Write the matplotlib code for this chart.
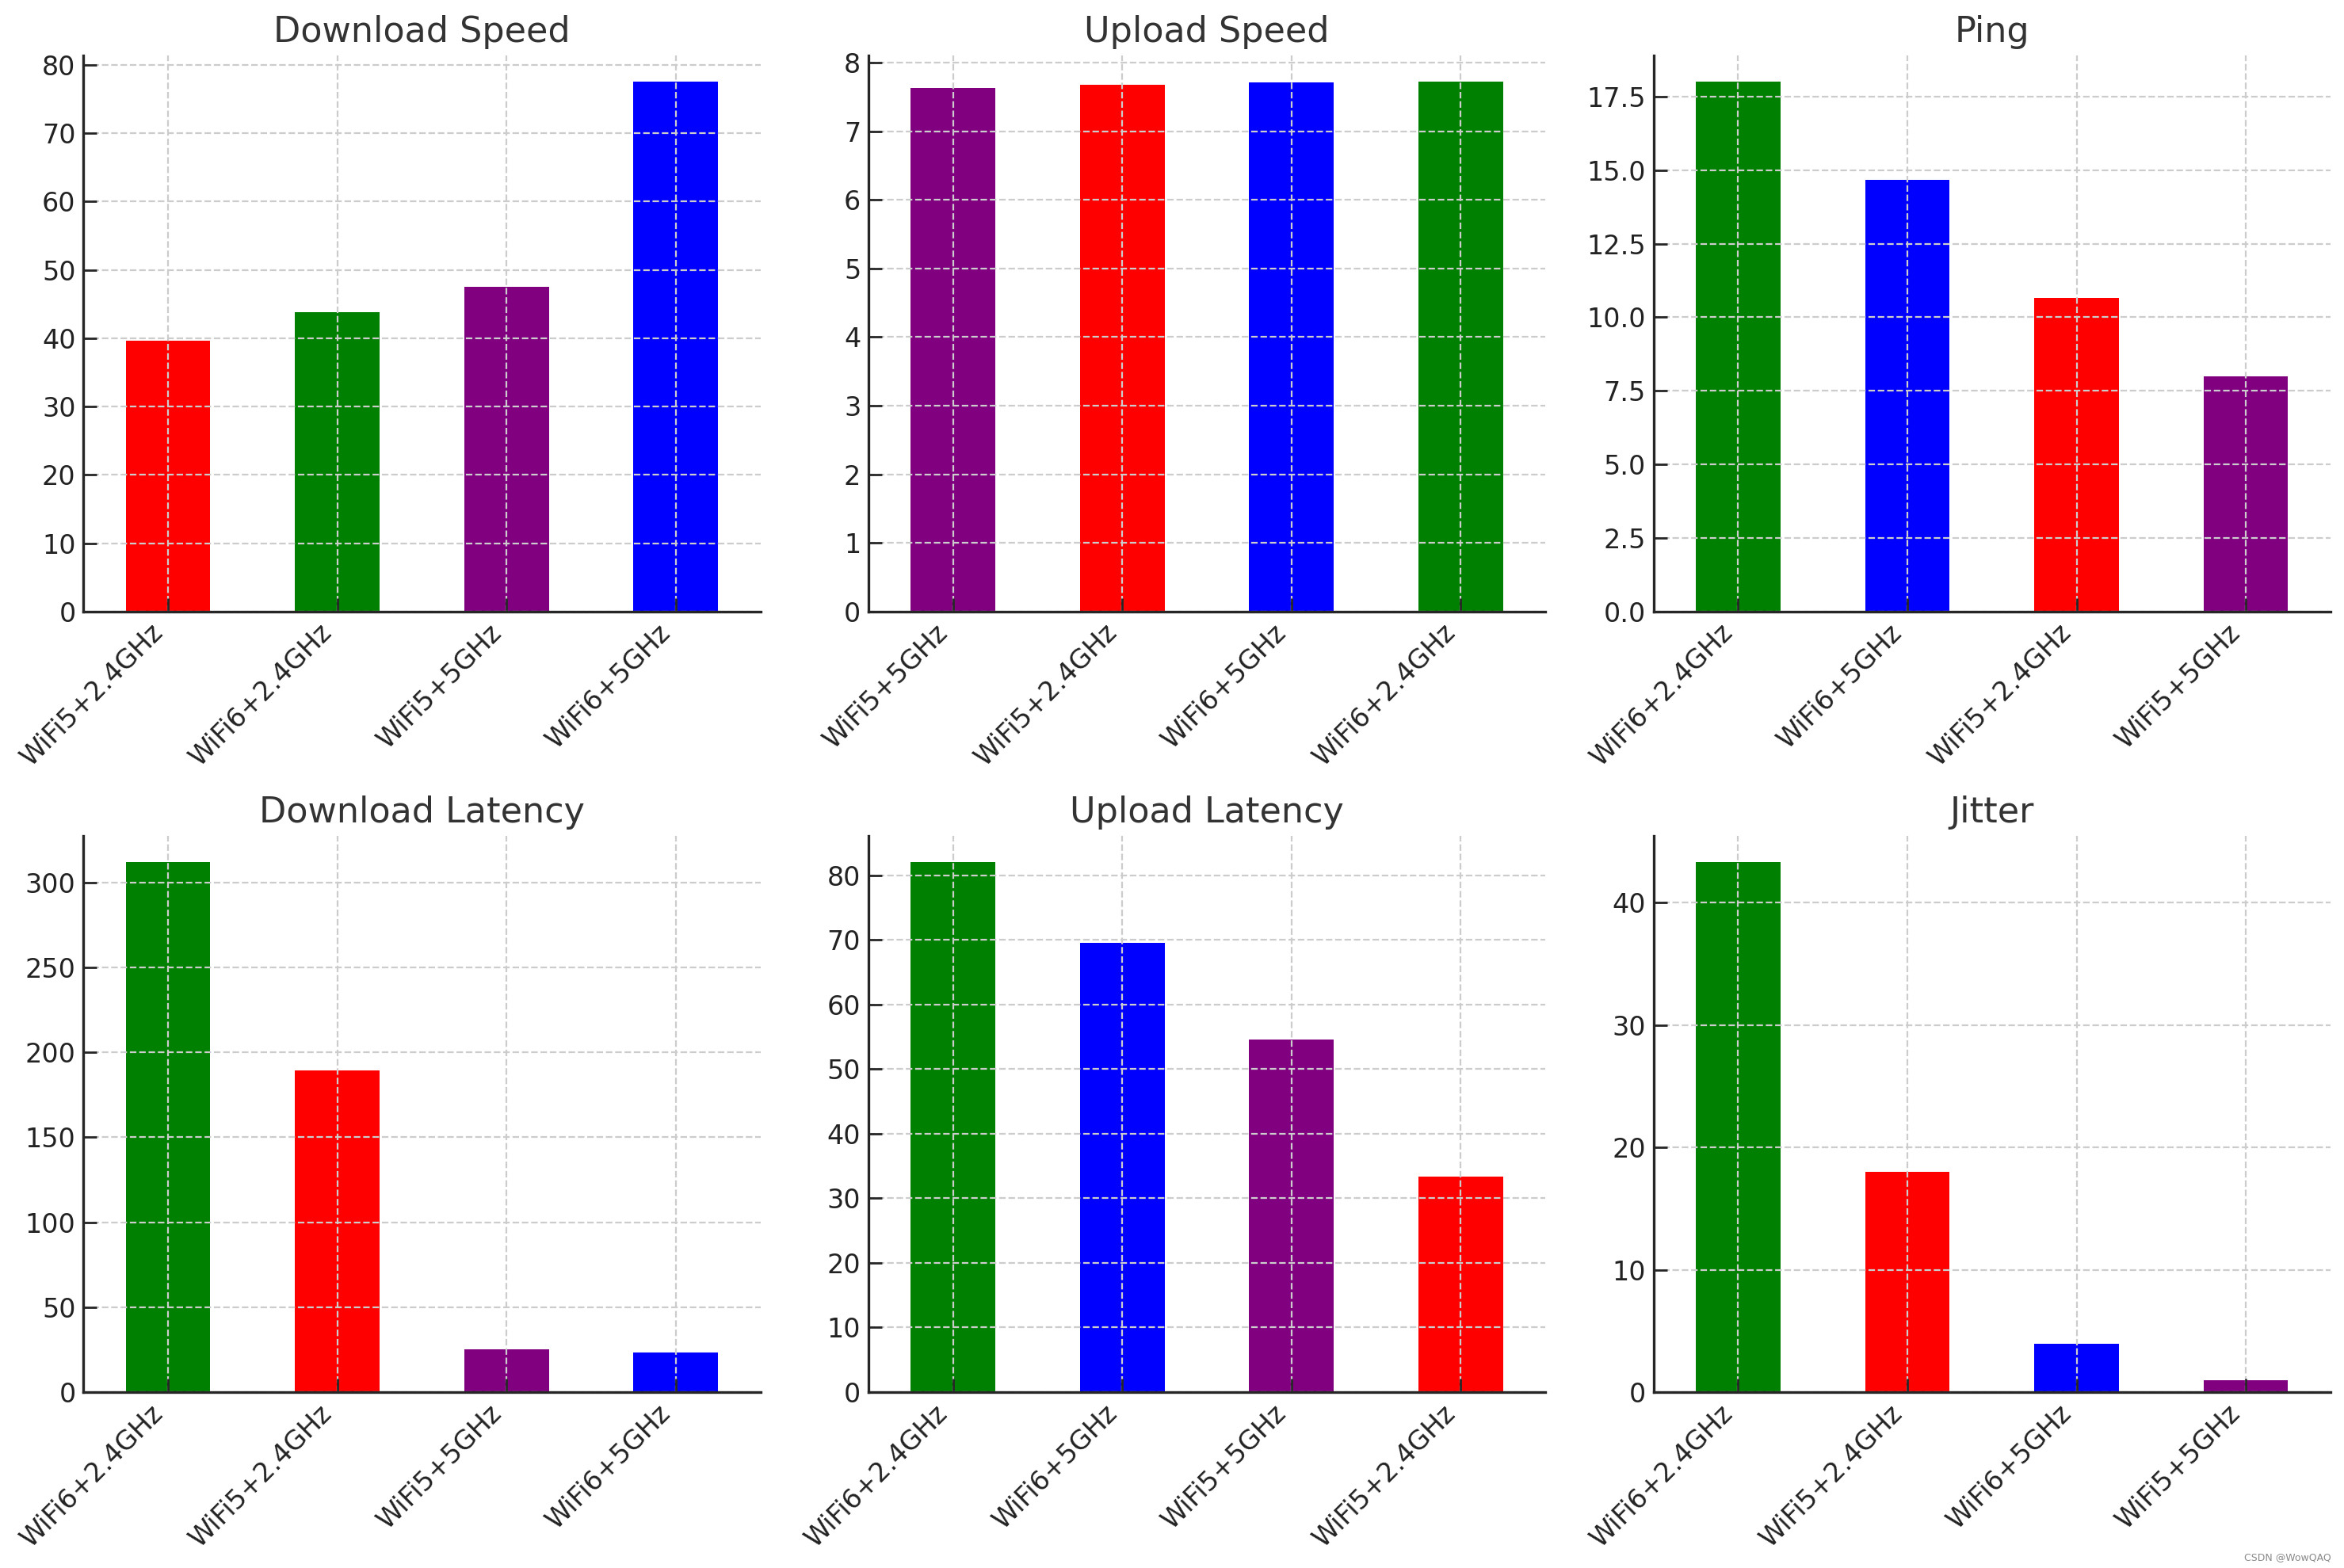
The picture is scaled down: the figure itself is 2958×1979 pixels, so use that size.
import matplotlib
matplotlib.use("Agg")
import matplotlib.pyplot as plt

# ---- data ----
titles = ["Download Speed", "Upload Speed", "Ping",
          "Download Latency", "Upload Latency", "Jitter"]

dl_speed_cats = ["WiFi5+2.4GHz", "WiFi6+2.4GHz", "WiFi5+5GHz", "WiFi6+5GHz"]
dl_speed_vals = [39.6, 43.8, 47.5, 77.5]

ul_speed_cats = ["WiFi5+5GHz", "WiFi5+2.4GHz", "WiFi6+5GHz", "WiFi6+2.4GHz"]
ul_speed_vals = [7.63, 7.68, 7.71, 7.72]

ping_cats = ["WiFi6+2.4GHz", "WiFi6+5GHz", "WiFi5+2.4GHz", "WiFi5+5GHz"]
ping_vals = [18.0, 14.67, 10.65, 7.99]

dl_lat_cats = ["WiFi6+2.4GHz", "WiFi5+2.4GHz", "WiFi5+5GHz", "WiFi6+5GHz"]
dl_lat_vals = [311.9, 189.2, 25.2, 23.3]

ul_lat_cats = ["WiFi6+2.4GHz", "WiFi6+5GHz", "WiFi5+5GHz", "WiFi5+2.4GHz"]
ul_lat_vals = [82.0, 69.6, 54.6, 33.3]

jitter_cats = ["WiFi6+2.4GHz", "WiFi5+2.4GHz", "WiFi6+5GHz", "WiFi5+5GHz"]
jitter_vals = [43.3, 18.0, 3.96, 0.99]

config_colors = {
    "WiFi5+2.4GHz": "red",
    "WiFi6+2.4GHz": "green",
    "WiFi5+5GHz": "purple",
    "WiFi6+5GHz": "blue",
}

panels = [
    (dl_speed_cats, dl_speed_vals),
    (ul_speed_cats, ul_speed_vals),
    (ping_cats, ping_vals),
    (dl_lat_cats, dl_lat_vals),
    (ul_lat_cats, ul_lat_vals),
    (jitter_cats, jitter_vals),
]

# ---- figure ----
plt.rcParams["font.family"] = ["DejaVu Sans"]
fig, axes = plt.subplots(2, 3, figsize=(14.79, 9.895), dpi=200)
fig.subplots_adjust(left=0.0356, right=0.9942, top=0.9647, bottom=0.1122,
                    wspace=0.1597, hspace=0.4034)

spine_color = "#262626"
for ax, title, (cats, vals) in zip(axes.flat, titles, panels):
    x = list(range(len(cats)))
    ax.bar(x, vals, width=0.5, color=[config_colors[c] for c in cats], zorder=1)
    ax.set_xlim(-0.5, len(cats) - 0.5)
    ax.set_xticks(x)
    ax.set_xticklabels(cats, rotation=45, ha="right", rotation_mode="default")
    ax.set_title(title, fontsize=16, color="#333333")
    ax.tick_params(axis="both", direction="in", length=6, width=1.0,
                   labelsize=12, colors=spine_color, labelcolor="#222222")
    ax.grid(True, linestyle="--", color="#cccccc", linewidth=0.8, zorder=2)
    ax.set_axisbelow(False)
    for side in ("top", "right"):
        ax.spines[side].set_visible(False)
    for side in ("left", "bottom"):
        ax.spines[side].set_color(spine_color)
        ax.spines[side].set_linewidth(1.2)
        ax.spines[side].set_zorder(5)

fig.text(0.9945, 0.0035, "CSDN @WowQAQ", fontsize=4.5, color="#8a8a8a",
         ha="right", va="bottom")

fig.savefig("out.png", dpi=200)
